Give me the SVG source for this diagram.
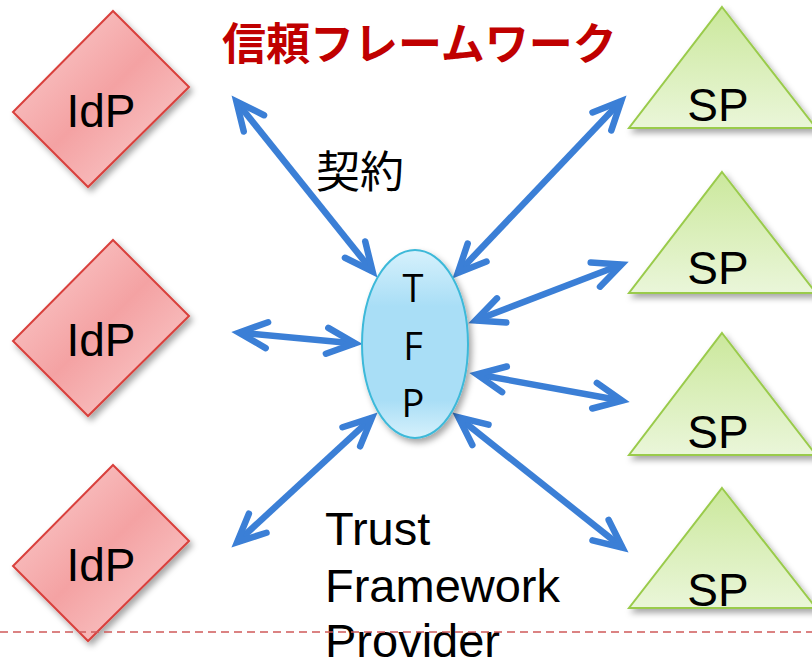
<svg xmlns="http://www.w3.org/2000/svg" width="812" height="662" viewBox="0 0 812 662">
<style>
.idp{stroke:#d9403c;stroke-width:2;fill:url(#gIdp);filter:url(#sh)}
.sp{stroke:#9acb4c;stroke-width:2;fill:url(#gSp);filter:url(#sh)}
.lbl{font-family:"Liberation Sans",Arial,sans-serif;font-size:46px;fill:#000}
.tfpn{font-family:"Liberation Sans",Arial,sans-serif;font-size:47px;fill:#000}
.tfp{font-family:"Open Sans","Liberation Sans",sans-serif;font-size:38px;fill:#000;text-anchor:middle}
.cjk{font-family:"Noto Sans CJK JP","Noto Sans CJK SC",sans-serif;font-size:44px}
.arr{stroke:#3b7fd6;stroke-width:6.5;fill:none;marker-start:url(#ah);marker-end:url(#ah)}
</style>
<defs>
<filter id="sh" x="-20%" y="-20%" width="150%" height="150%">
<feDropShadow dx="3" dy="4" stdDeviation="3" flood-color="#000" flood-opacity="0.35"/>
</filter>
<linearGradient id="gIdp" x1="0" y1="0" x2="1" y2="1">
<stop offset="0" stop-color="#fbd2d2"/>
<stop offset="0.5" stop-color="#f4a2a3"/>
<stop offset="1" stop-color="#fbd4d4"/>
</linearGradient>
<linearGradient id="gSp" x1="0" y1="0" x2="0" y2="1">
<stop offset="0" stop-color="#cbe89c"/>
<stop offset="1" stop-color="#eaf6d9"/>
</linearGradient>
<linearGradient id="gTfp" x1="0" y1="0" x2="0" y2="1">
<stop offset="0" stop-color="#d6f1fc"/>
<stop offset="0.3" stop-color="#a9def6"/>
<stop offset="0.8" stop-color="#a9def6"/>
<stop offset="1" stop-color="#d6f1fc"/>
</linearGradient>
<marker id="ah" markerUnits="userSpaceOnUse" orient="auto-start-reverse" refX="-7" refY="0" markerWidth="40" markerHeight="40" overflow="visible">
<path d="M-35,-13 L-7,0 L-35,13" fill="none" stroke="#3b7fd6" stroke-width="6.5" stroke-linecap="round" stroke-linejoin="miter" stroke-miterlimit="10"/>
</marker>
</defs>
<rect width="812" height="662" fill="#fff"/>

<g id="idp1">
<polygon class="idp" points="113,11 189,87 88,187 13,112"/>
<text class="lbl" x="101" y="127" text-anchor="middle">IdP</text>
</g>
<g id="idp2">
<polygon class="idp" points="113,240 189,316 88,416 13,341"/>
<text class="lbl" x="101" y="356" text-anchor="middle">IdP</text>
</g>
<g id="idp3">
<polygon class="idp" points="113,465 189,541 88,641 13,566"/>
<text class="lbl" x="101" y="581" text-anchor="middle">IdP</text>
</g>

<g id="sp1">
<polygon class="sp" points="722,7 816,128 629,128"/>
<text class="lbl" x="718" y="121" text-anchor="middle">SP</text>
</g>
<g id="sp2">
<polygon class="sp" points="722,172 816,293 629,293"/>
<text class="lbl" x="718" y="284" text-anchor="middle">SP</text>
</g>
<g id="sp3">
<polygon class="sp" points="722,333 816,455 629,455"/>
<text class="lbl" x="718" y="448" text-anchor="middle">SP</text>
</g>
<g id="sp4">
<polygon class="sp" points="722,488 816,608 629,608"/>
<text class="lbl" x="718" y="606" text-anchor="middle">SP</text>
</g>

<g id="connectors">
<line class="arr" x1="236.4" y1="101.5" x2="372.6" y2="271.5"/>
<line class="arr" x1="239" y1="332.6" x2="355" y2="343.4"/>
<line class="arr" x1="237.1" y1="542.2" x2="371.9" y2="417.8"/>
<line class="arr" x1="621.2" y1="101.1" x2="457.8" y2="272.9"/>
<line class="arr" x1="621.5" y1="264.5" x2="475.5" y2="320.5"/>
<line class="arr" x1="476.9" y1="374.3" x2="622.1" y2="400.7"/>
<line class="arr" x1="458.5" y1="417.4" x2="622.5" y2="547.6"/>
</g>

<g id="tfp">
<ellipse cx="415" cy="344" rx="53" ry="94" fill="url(#gTfp)" stroke="#3db9d9" stroke-width="2" filter="url(#sh)"/>
<text class="tfp" x="413" y="302">T</text>
<text class="tfp" x="413" y="360">F</text>
<text class="tfp" x="413" y="417">P</text>
</g>

<text class="cjk" x="222" y="60" fill="#c00000" font-weight="bold">信頼フレームワーク</text>
<text class="cjk" x="316" y="188" fill="#000">契約</text>
<text class="tfpn" x="325" y="545">Trust</text>
<text class="tfpn" x="325" y="602">Framework</text>
<text class="tfpn" x="325" y="657">Provider</text>

<line x1="0" y1="632" x2="812" y2="632" stroke="#d05a5a" stroke-width="1.5" stroke-dasharray="8,5"/>
</svg>
